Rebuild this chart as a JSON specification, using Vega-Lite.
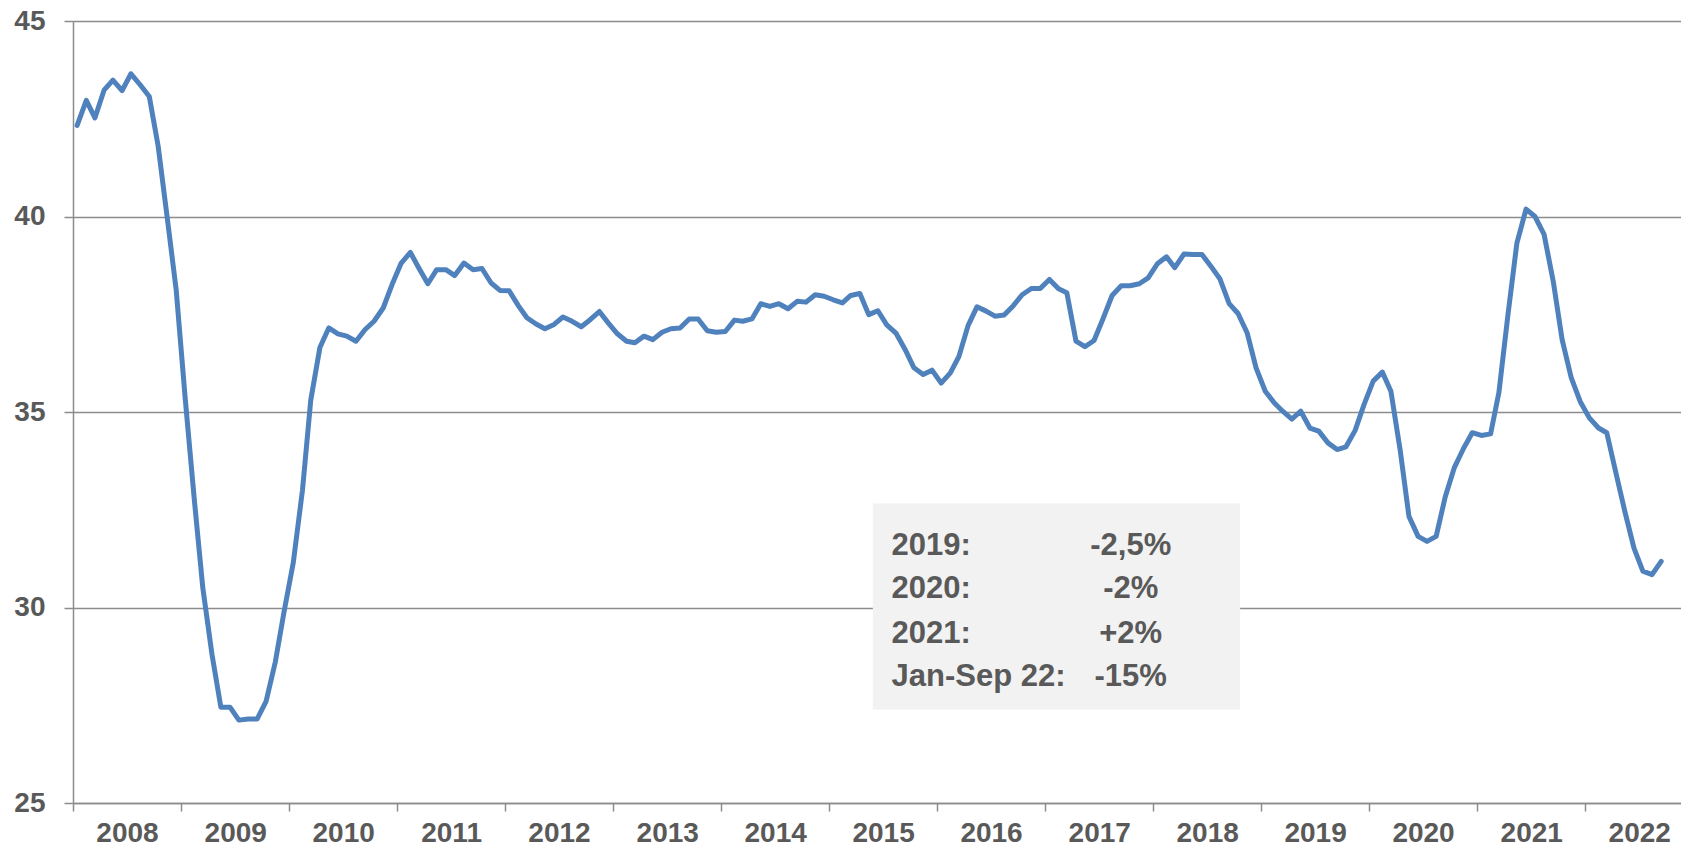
{
  "$schema": "https://vega.github.io/schema/vega-lite/v6.json",
  "width": 1608,
  "height": 782,
  "autosize": "none",
  "padding": {"left": 73, "top": 21, "right": 0, "bottom": 46},
  "background": "white",
  "config": {
    "view": {"stroke": null},
    "font": "Liberation Sans",
    "axis": {
      "domainColor": "#8C8C8C",
      "domainWidth": 1.5,
      "tickColor": "#8C8C8C",
      "tickWidth": 1.5,
      "gridColor": "#8C8C8C",
      "gridWidth": 1.5,
      "labelFont": "Liberation Sans",
      "labelFontWeight": "bold",
      "labelFontSize": 28,
      "labelColor": "#595959",
      "title": null
    }
  },
  "datasets": {
    "series": [
      {"d": "2008-01-15", "v": 42.33}, {"d": "2008-02-15", "v": 42.97}, {"d": "2008-03-15", "v": 42.52}, {"d": "2008-04-15", "v": 43.23},
      {"d": "2008-05-15", "v": 43.49}, {"d": "2008-06-15", "v": 43.22}, {"d": "2008-07-15", "v": 43.65}, {"d": "2008-08-15", "v": 43.37},
      {"d": "2008-09-15", "v": 43.07}, {"d": "2008-10-15", "v": 41.8}, {"d": "2008-11-15", "v": 39.95}, {"d": "2008-12-15", "v": 38.12},
      {"d": "2009-01-15", "v": 35.3}, {"d": "2009-02-15", "v": 32.7}, {"d": "2009-03-15", "v": 30.5}, {"d": "2009-04-15", "v": 28.8},
      {"d": "2009-05-15", "v": 27.45}, {"d": "2009-06-15", "v": 27.45}, {"d": "2009-07-15", "v": 27.12}, {"d": "2009-08-15", "v": 27.15},
      {"d": "2009-09-15", "v": 27.15}, {"d": "2009-10-15", "v": 27.6}, {"d": "2009-11-15", "v": 28.6}, {"d": "2009-12-15", "v": 29.9},
      {"d": "2010-01-15", "v": 31.15}, {"d": "2010-02-15", "v": 33.0}, {"d": "2010-03-15", "v": 35.3}, {"d": "2010-04-15", "v": 36.65},
      {"d": "2010-05-15", "v": 37.15}, {"d": "2010-06-15", "v": 37.0}, {"d": "2010-07-15", "v": 36.94}, {"d": "2010-08-15", "v": 36.81},
      {"d": "2010-09-15", "v": 37.11}, {"d": "2010-10-15", "v": 37.32}, {"d": "2010-11-15", "v": 37.66}, {"d": "2010-12-15", "v": 38.26},
      {"d": "2011-01-15", "v": 38.81}, {"d": "2011-02-15", "v": 39.08}, {"d": "2011-03-15", "v": 38.69}, {"d": "2011-04-15", "v": 38.28},
      {"d": "2011-05-15", "v": 38.64}, {"d": "2011-06-15", "v": 38.64}, {"d": "2011-07-15", "v": 38.49}, {"d": "2011-08-15", "v": 38.81},
      {"d": "2011-09-15", "v": 38.64}, {"d": "2011-10-15", "v": 38.67}, {"d": "2011-11-15", "v": 38.3}, {"d": "2011-12-15", "v": 38.11},
      {"d": "2012-01-15", "v": 38.1}, {"d": "2012-02-15", "v": 37.72}, {"d": "2012-03-15", "v": 37.41}, {"d": "2012-04-15", "v": 37.25},
      {"d": "2012-05-15", "v": 37.13}, {"d": "2012-06-15", "v": 37.24}, {"d": "2012-07-15", "v": 37.43}, {"d": "2012-08-15", "v": 37.32},
      {"d": "2012-09-15", "v": 37.18}, {"d": "2012-10-15", "v": 37.36}, {"d": "2012-11-15", "v": 37.57}, {"d": "2012-12-15", "v": 37.28},
      {"d": "2013-01-15", "v": 37.0}, {"d": "2013-02-15", "v": 36.81}, {"d": "2013-03-15", "v": 36.77}, {"d": "2013-04-15", "v": 36.94},
      {"d": "2013-05-15", "v": 36.85}, {"d": "2013-06-15", "v": 37.04}, {"d": "2013-07-15", "v": 37.13}, {"d": "2013-08-15", "v": 37.15},
      {"d": "2013-09-15", "v": 37.38}, {"d": "2013-10-15", "v": 37.38}, {"d": "2013-11-15", "v": 37.08}, {"d": "2013-12-15", "v": 37.04},
      {"d": "2014-01-15", "v": 37.06}, {"d": "2014-02-15", "v": 37.35}, {"d": "2014-03-15", "v": 37.32}, {"d": "2014-04-15", "v": 37.38},
      {"d": "2014-05-15", "v": 37.77}, {"d": "2014-06-15", "v": 37.7}, {"d": "2014-07-15", "v": 37.77}, {"d": "2014-08-15", "v": 37.64},
      {"d": "2014-09-15", "v": 37.83}, {"d": "2014-10-15", "v": 37.81}, {"d": "2014-11-15", "v": 38.0}, {"d": "2014-12-15", "v": 37.96},
      {"d": "2015-01-15", "v": 37.87}, {"d": "2015-02-15", "v": 37.79}, {"d": "2015-03-15", "v": 37.98}, {"d": "2015-04-15", "v": 38.03},
      {"d": "2015-05-15", "v": 37.49}, {"d": "2015-06-15", "v": 37.59}, {"d": "2015-07-15", "v": 37.23}, {"d": "2015-08-15", "v": 37.02},
      {"d": "2015-09-15", "v": 36.6}, {"d": "2015-10-15", "v": 36.13}, {"d": "2015-11-15", "v": 35.96}, {"d": "2015-12-15", "v": 36.07},
      {"d": "2016-01-15", "v": 35.74}, {"d": "2016-02-15", "v": 36.0}, {"d": "2016-03-15", "v": 36.42}, {"d": "2016-04-15", "v": 37.21},
      {"d": "2016-05-15", "v": 37.69}, {"d": "2016-06-15", "v": 37.58}, {"d": "2016-07-15", "v": 37.45}, {"d": "2016-08-15", "v": 37.48},
      {"d": "2016-09-15", "v": 37.72}, {"d": "2016-10-15", "v": 38.0}, {"d": "2016-11-15", "v": 38.16}, {"d": "2016-12-15", "v": 38.16},
      {"d": "2017-01-15", "v": 38.39}, {"d": "2017-02-15", "v": 38.15}, {"d": "2017-03-15", "v": 38.05}, {"d": "2017-04-15", "v": 36.81},
      {"d": "2017-05-15", "v": 36.67}, {"d": "2017-06-15", "v": 36.83}, {"d": "2017-07-15", "v": 37.38}, {"d": "2017-08-15", "v": 37.98},
      {"d": "2017-09-15", "v": 38.23}, {"d": "2017-10-15", "v": 38.23}, {"d": "2017-11-15", "v": 38.28}, {"d": "2017-12-15", "v": 38.43},
      {"d": "2018-01-15", "v": 38.79}, {"d": "2018-02-15", "v": 38.97}, {"d": "2018-03-15", "v": 38.69}, {"d": "2018-04-15", "v": 39.04},
      {"d": "2018-05-15", "v": 39.03}, {"d": "2018-06-15", "v": 39.03}, {"d": "2018-07-15", "v": 38.73}, {"d": "2018-08-15", "v": 38.4},
      {"d": "2018-09-15", "v": 37.77}, {"d": "2018-10-15", "v": 37.52}, {"d": "2018-11-15", "v": 37.02}, {"d": "2018-12-15", "v": 36.13},
      {"d": "2019-01-15", "v": 35.53}, {"d": "2019-02-15", "v": 35.23}, {"d": "2019-03-15", "v": 35.02}, {"d": "2019-04-15", "v": 34.82},
      {"d": "2019-05-15", "v": 35.02}, {"d": "2019-06-15", "v": 34.59}, {"d": "2019-07-15", "v": 34.51}, {"d": "2019-08-15", "v": 34.21},
      {"d": "2019-09-15", "v": 34.04}, {"d": "2019-10-15", "v": 34.11}, {"d": "2019-11-15", "v": 34.53}, {"d": "2019-12-15", "v": 35.19},
      {"d": "2020-01-15", "v": 35.79}, {"d": "2020-02-15", "v": 36.02}, {"d": "2020-03-15", "v": 35.53}, {"d": "2020-04-15", "v": 34.04},
      {"d": "2020-05-15", "v": 32.33}, {"d": "2020-06-15", "v": 31.82}, {"d": "2020-07-15", "v": 31.69}, {"d": "2020-08-15", "v": 31.82},
      {"d": "2020-09-15", "v": 32.84}, {"d": "2020-10-15", "v": 33.57}, {"d": "2020-11-15", "v": 34.06}, {"d": "2020-12-15", "v": 34.47},
      {"d": "2021-01-15", "v": 34.4}, {"d": "2021-02-15", "v": 34.44}, {"d": "2021-03-15", "v": 35.49}, {"d": "2021-04-15", "v": 37.5},
      {"d": "2021-05-15", "v": 39.32}, {"d": "2021-06-15", "v": 40.19}, {"d": "2021-07-15", "v": 40.0}, {"d": "2021-08-15", "v": 39.54},
      {"d": "2021-09-15", "v": 38.34}, {"d": "2021-10-15", "v": 36.85}, {"d": "2021-11-15", "v": 35.87}, {"d": "2021-12-15", "v": 35.27},
      {"d": "2022-01-15", "v": 34.85}, {"d": "2022-02-15", "v": 34.59}, {"d": "2022-03-15", "v": 34.47}, {"d": "2022-04-15", "v": 33.44},
      {"d": "2022-05-15", "v": 32.46}, {"d": "2022-06-15", "v": 31.52}, {"d": "2022-07-15", "v": 30.93}, {"d": "2022-08-15", "v": 30.84},
      {"d": "2022-09-15", "v": 31.18}
    ],
    "notes": [
      {"period": "2019:", "change": "-2,5%", "y": 31.35},
      {"period": "2020:", "change": "-2%", "y": 30.25},
      {"period": "2021:", "change": "+2%", "y": 29.09},
      {"period": "Jan-Sep 22:", "change": "-15%", "y": 27.98}
    ],
    "box": [
      {"x1": "2015-05-29", "x2": "2018-10-22", "y1": 32.66, "y2": 27.39}
    ]
  },
  "layer": [
    {
      "data": {"name": "box"},
      "mark": {"type": "rect", "color": "#F2F2F2"},
      "encoding": {
        "x": {"field": "x1", "type": "temporal", "title": null},
        "x2": {"field": "x2"},
        "y": {"field": "y1", "type": "quantitative", "title": null},
        "y2": {"field": "y2"}
      }
    },
    {
      "data": {"name": "series"},
      "mark": {"type": "line", "color": "#4F81BD", "strokeWidth": 5, "strokeJoin": "round", "strokeCap": "round"},
      "encoding": {
        "x": {
          "field": "d",
          "type": "temporal",
          "title": null,
          "scale": {"domain": [{"year": 2008, "month": 1, "date": 1}, {"year": 2022, "month": 11, "date": 21}]},
          "axis": {
            "values": [
              {"year": 2008, "month": 1, "date": 1}, {"year": 2009, "month": 1, "date": 1}, {"year": 2010, "month": 1, "date": 1},
              {"year": 2011, "month": 1, "date": 1}, {"year": 2012, "month": 1, "date": 1}, {"year": 2013, "month": 1, "date": 1},
              {"year": 2014, "month": 1, "date": 1}, {"year": 2015, "month": 1, "date": 1}, {"year": 2016, "month": 1, "date": 1},
              {"year": 2017, "month": 1, "date": 1}, {"year": 2018, "month": 1, "date": 1}, {"year": 2019, "month": 1, "date": 1},
              {"year": 2020, "month": 1, "date": 1}, {"year": 2021, "month": 1, "date": 1}, {"year": 2022, "month": 1, "date": 1}
            ],
            "format": "%Y",
            "formatType": "time",
            "grid": false,
            "tickSize": 8,
            "labelPadding": 8,
            "labelOffset": 54,
            "labelAlign": "center",
            "labelBound": false,
            "labelFlush": false,
            "labelOverlap": false,
            "title": null
          }
        },
        "y": {
          "field": "v",
          "type": "quantitative",
          "title": null,
          "scale": {"domain": [25, 45], "nice": false, "zero": false},
          "axis": {
            "values": [25, 30, 35, 40, 45],
            "grid": true,
            "tickSize": 9,
            "labelPadding": 19,
            "labelBound": false,
            "labelFlush": false,
            "labelOverlap": false,
            "title": null
          }
        }
      }
    },
    {
      "data": {"name": "notes"},
      "mark": {"type": "text", "align": "left", "baseline": "alphabetic", "font": "Liberation Sans", "fontWeight": "bold", "fontSize": 31, "color": "#595959"},
      "encoding": {
        "x": {"datum": {"year": 2015, "month": 7, "date": 31}, "type": "temporal", "title": null},
        "y": {"field": "y", "type": "quantitative", "title": null},
        "text": {"field": "period"}
      }
    },
    {
      "data": {"name": "notes"},
      "mark": {"type": "text", "align": "center", "baseline": "alphabetic", "font": "Liberation Sans", "fontWeight": "bold", "fontSize": 31, "color": "#595959"},
      "encoding": {
        "x": {"datum": {"year": 2017, "month": 10, "date": 17}, "type": "temporal", "title": null},
        "y": {"field": "y", "type": "quantitative", "title": null},
        "text": {"field": "change"}
      }
    }
  ]
}
